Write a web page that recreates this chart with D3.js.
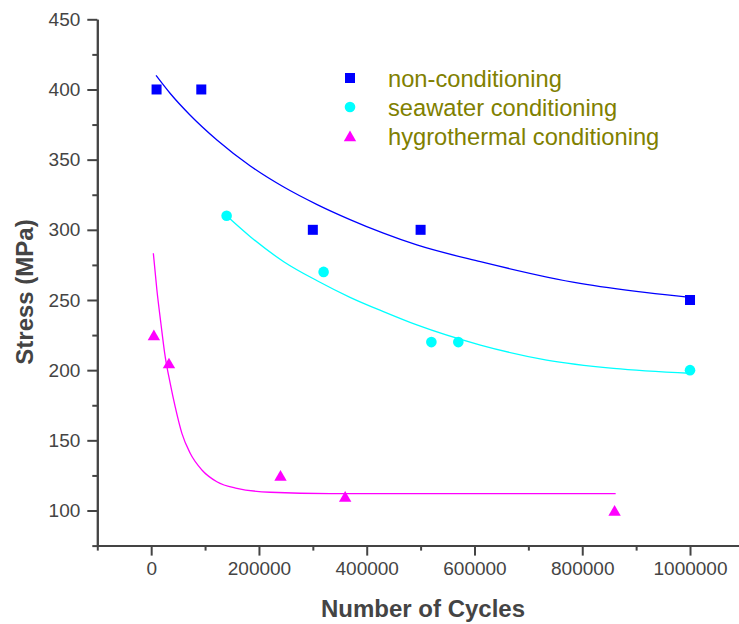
<!DOCTYPE html>
<html>
<head>
<meta charset="utf-8">
<script src="https://cdn.jsdelivr.net/npm/d3@7/dist/d3.min.js"></script>
<style>
  body { margin: 0; background: #fff; }
  svg { display: block; font-family: "Liberation Sans", Arial, sans-serif; }
</style>
</head>
<body>
<svg id="chart" width="739" height="624"></svg>
<script>
// measured points
var cyclesNon = [10000, 93000, 300000, 500000, 1000000];
var stressNon = [400, 400, 300, 300, 250];
var cyclesSea = [140000, 320000, 520000, 570000, 1000000];
var stressSea = [310, 270, 220, 220, 200];
var cyclesHyg = [5000, 33000, 240000, 360000, 860000];
var stressHyg = [225, 205, 125, 110, 100];

// fitted curves
var fitXNon = [9000, 35000, 72000, 122000, 184000, 246000, 308000, 369000, 431000, 493000, 611000, 796000, 920000, 1000000];
var fitYNon = [410, 397.3, 381.8, 364, 345.5, 330.5, 318, 307.3, 297.6, 289.2, 277.3, 261.8, 255.2, 251.8];
var fitXSea = [140000, 184000, 246000, 308000, 369000, 431000, 493000, 611000, 734000, 858000, 1000000];
var fitYSea = [310, 295.1, 277.3, 263.7, 251.9, 241.7, 232.2, 217.9, 207.2, 201.3, 197.8];
var fitXHyg = [4000, 10600, 18000, 26000, 35300, 44500, 57000, 72400, 94100, 121900, 159000, 221000, 332000, 600000, 862000];
var fitYHyg = [283.3, 257.1, 233.4, 209.6, 190.6, 174, 155, 140.8, 128.9, 120.5, 115.8, 113, 112, 112, 112];

var seriesNames = ["non-conditioning", "seawater conditioning", "hygrothermal conditioning"];
var seriesColors = ["#0000ff", "#00ffff", "#ff00ff"];

var xTicks = [0, 200000, 400000, 600000, 800000, 1000000];
var xMinor = [-100000, 100000, 300000, 500000, 700000, 900000];
var yTicks = [100, 150, 200, 250, 300, 350, 400, 450];
var yMinor = [75, 125, 175, 225, 275, 325, 375, 425];

var axisColor = "#444";

var svg = d3.select("#chart");

var x = d3.scaleLinear().domain([-100000, 1100000]).range([97.3, 743.9]);
var y = d3.scaleLinear().domain([75, 450]).range([545.6, 19.3]);

function zip(xs, ys) {
  return xs.map(function(v, i) { return [v, ys[i]]; });
}

// axes
function styleAxis(g) {
  g.selectAll("path.domain").attr("stroke", axisColor).attr("stroke-width", 2);
  g.selectAll(".tick line").attr("stroke", axisColor).attr("stroke-width", 2);
  g.selectAll(".tick text")
    .attr("fill", axisColor)
    .attr("font-size", "19px")
    .attr("font-family", "Liberation Sans, Arial, sans-serif");
}

svg.append("g")
  .attr("transform", "translate(0," + y(75) + ")")
  .call(d3.axisBottom(x).tickValues(xMinor).tickSize(5).tickSizeOuter(0).tickFormat(""))
  .call(styleAxis);
svg.append("g")
  .attr("transform", "translate(0," + y(75) + ")")
  .call(d3.axisBottom(x).tickValues(xTicks).tickSize(10).tickSizeOuter(0).tickPadding(6).tickFormat(d3.format("d")))
  .call(styleAxis);

svg.append("g")
  .attr("transform", "translate(" + x(-100000) + ",0)")
  .call(d3.axisLeft(y).tickValues(yMinor).tickSize(5).tickSizeOuter(0).tickFormat(""))
  .call(styleAxis);
svg.append("g")
  .attr("transform", "translate(" + x(-100000) + ",0)")
  .call(d3.axisLeft(y).tickValues(yTicks).tickSize(10).tickSizeOuter(0).tickPadding(7).tickFormat(d3.format("d")))
  .call(styleAxis);

// axis titles
svg.append("text")
  .attr("x", 423)
  .attr("y", 617)
  .attr("text-anchor", "middle")
  .attr("font-size", "24px")
  .attr("font-weight", "bold")
  .attr("fill", axisColor)
  .text("Number of Cycles");

svg.append("text")
  .attr("transform", "translate(33,292) rotate(-90)")
  .attr("text-anchor", "middle")
  .attr("font-size", "24px")
  .attr("font-weight", "bold")
  .attr("fill", axisColor)
  .text("Stress (MPa)");

// fit lines
var line = d3.line()
  .x(function(d) { return x(d[0]); })
  .y(function(d) { return y(d[1]); })
  .curve(d3.curveMonotoneX);

var fits = [zip(fitXNon, fitYNon), zip(fitXSea, fitYSea), zip(fitXHyg, fitYHyg)];
fits.forEach(function(pts, i) {
  svg.append("path")
    .attr("d", line(pts))
    .attr("fill", "none")
    .attr("stroke", seriesColors[i])
    .attr("stroke-width", 1.3);
});

// markers
function marker(g, kind, color) {
  if (kind === 0) {
    g.append("rect").attr("x", -5).attr("y", -5).attr("width", 10).attr("height", 10).attr("fill", color);
  } else if (kind === 1) {
    g.append("circle").attr("r", 5.3).attr("fill", color);
  } else {
    g.append("path").attr("d", "M0,-5.5L6.2,5.2L-6.2,5.2Z").attr("fill", color);
  }
}

var pointSets = [zip(cyclesNon, stressNon), zip(cyclesSea, stressSea), zip(cyclesHyg, stressHyg)];
pointSets.forEach(function(pts, i) {
  svg.append("g")
    .selectAll("g")
    .data(pts)
    .join("g")
    .attr("transform", function(d) { return "translate(" + x(d[0]) + "," + y(d[1]) + ")"; })
    .each(function() { marker(d3.select(this), i, seriesColors[i]); });
});

// legend
var legend = svg.append("g").attr("transform", "translate(350,78)");
seriesNames.forEach(function(name, i) {
  var row = legend.append("g").attr("transform", "translate(0," + i * 29 + ")");
  marker(row, i, seriesColors[i]);
  row.append("text")
    .attr("x", 38)
    .attr("y", 9)
    .attr("font-size", "23.7px")
    .attr("fill", "#808000")
    .text(name);
});
</script>
</body>
</html>
